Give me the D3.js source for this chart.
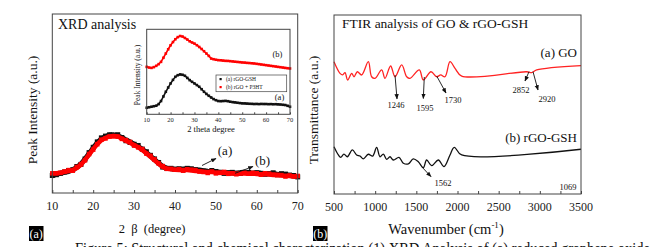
<!DOCTYPE html>
<html lang="en">
<head>
<meta charset="UTF-8">
<title>XRD and FTIR</title>
<script src="https://d3js.org/d3.v7.min.js"></script>
<style>
body { margin: 0; background: #fff; }
svg { display: block; background: #fff; font-family: "Liberation Serif", "DejaVu Serif", serif; }
.frame { fill: none; stroke: #444; stroke-width: 1; }
.tick-lab { font-size: 12px; fill: #222; }
</style>
</head>
<body>
<svg id="chart" width="652" height="247"></svg>
<script>
// ---- XRD data (2 theta, 10..70 by 1 degree) ----
const xrdAngles = d3.range(10, 71);
const xrdMainGSH = [9.5, 10.5, 11.0, 11.5, 12.0, 13.0, 14.3, 16.2, 19.0, 22.0, 25.2, 28.0, 30.3, 31.5, 32.4, 32.5, 32.0, 31.0, 29.7, 28.5, 27.3, 26.0, 24.4, 22.6, 20.6, 18.6, 16.6, 14.8, 13.9, 13.5, 13.3, 13.2, 13.4, 13.5, 13.2, 13.0, 12.8, 12.5, 12.2, 12.0, 11.8, 11.6, 11.4, 11.3, 11.2, 11.0, 11.4, 11.6, 11.2, 11.0, 11.3, 11.0, 10.8, 10.7, 10.9, 10.5, 10.3, 10.0, 9.8, 9.5, 9.0];
const xrdMainP3HT = [11.0, 11.0, 11.3, 11.8, 12.3, 12.8, 14.0, 15.8, 18.5, 21.5, 24.5, 27.3, 29.5, 30.8, 31.6, 31.9, 31.6, 30.5, 29.2, 28.0, 26.8, 25.6, 24.0, 22.2, 20.3, 18.3, 16.4, 14.6, 13.6, 13.2, 13.0, 12.9, 12.8, 12.9, 12.6, 12.3, 12.2, 11.9, 11.7, 11.8, 11.4, 11.3, 11.5, 11.1, 11.0, 10.8, 11.0, 10.9, 10.7, 10.9, 10.6, 10.5, 10.6, 10.3, 10.1, 10.2, 9.8, 9.7, 9.5, 9.3, 9.2];
const insetGSH = [7.7, 8.3, 8.9, 9.5, 10.1, 12.0, 15.6, 21.0, 26.5, 31.5, 36.3, 40.5, 44.1, 46.0, 46.9, 46.5, 45.3, 42.8, 40.2, 38.2, 36.3, 34.4, 32.4, 29.5, 26.5, 24.0, 21.8, 19.8, 17.9, 16.6, 15.6, 15.4, 15.6, 15.8, 15.4, 14.8, 14.3, 14.0, 13.6, 13.2, 12.9, 12.8, 12.6, 12.4, 12.3, 12.1, 12.2, 12.0, 12.2, 12.1, 12.1, 11.9, 12.0, 11.8, 11.9, 11.7, 11.5, 11.2, 10.9, 10.0, 8.9];
const insetP3HT = [55.8, 55.0, 54.6, 55.5, 57.0, 59.0, 61.7, 66.5, 71.5, 76.5, 81.2, 85.0, 88.3, 90.8, 92.1, 91.5, 89.8, 88.0, 85.9, 84.5, 83.2, 81.3, 79.2, 76.8, 74.2, 71.5, 68.7, 65.6, 64.8, 64.2, 63.7, 63.5, 63.2, 62.9, 62.8, 62.5, 62.2, 61.9, 61.6, 61.3, 61.0, 60.8, 60.5, 60.3, 60.0, 59.8, 59.4, 59.0, 58.6, 58.2, 57.8, 57.4, 57.0, 56.6, 56.2, 55.8, 55.4, 55.0, 54.6, 54.2, 53.9];
const xrdTicks = [10, 20, 30, 40, 50, 60, 70];

// ---- FTIR data ----
const goWave = [500, 573, 605, 634, 666, 715, 743, 783, 836, 917, 957, 998, 1079, 1119, 1188, 1241, 1322, 1383, 1423, 1536, 1585, 1678, 1747, 1796, 1848, 1909, 1970, 2051, 2840, 2901, 2962, 3500];
const goT = [73.9, 67.4, 66.5, 67.8, 63.7, 67.4, 65.5, 68.3, 66.5, 73.9, 65.5, 64.6, 69.3, 64.6, 71.5, 65.5, 72.1, 65.5, 64.6, 69.3, 63.7, 68.3, 65.5, 66.5, 65.5, 73.9, 70.2, 65.9, 68.3, 67.8, 69.3, 71.7];
const rgoWave = [500, 553, 581, 621, 662, 723, 775, 816, 856, 917, 970, 1018, 1059, 1099, 1140, 1180, 1221, 1289, 1342, 1403, 1463, 1524, 1585, 1625, 1686, 1767, 1836, 1909, 1961, 2051, 3500];
const rgoT = [26.4, 21.8, 20.5, 22.3, 20.8, 24.6, 21.8, 21.2, 19.6, 22.2, 21.2, 26.1, 20.8, 22.3, 19.4, 20.8, 19.0, 20.5, 17.2, 16.8, 19.6, 18.0, 14.7, 19.0, 15.8, 19.0, 15.3, 21.8, 26.1, 21.8, 25.0];
const ftirTicks = [500, 1000, 1500, 2000, 2500, 3000, 3500];
const peakLabels = ["1246", "1595", "1730", "2852", "2920", "1562", "1069"];

const svg = d3.select("#chart");

// arrow head
svg.append("defs").append("marker")
    .attr("id", "arr")
    .attr("viewBox", "0 0 10 10")
    .attr("refX", 9).attr("refY", 5)
    .attr("markerWidth", 6).attr("markerHeight", 6)
    .attr("orient", "auto")
    .append("path").attr("d", "M0,1 L10,5 L0,9 Z").attr("fill", "#111");

function arrow(x1, y1, x2, y2) {
    svg.append("line")
        .attr("x1", x1).attr("y1", y1).attr("x2", x2).attr("y2", y2)
        .attr("stroke", "#111").attr("stroke-width", 0.9)
        .attr("marker-end", "url(#arr)");
}

function label(x, y, txt, size, anchor) {
    return svg.append("text")
        .attr("x", x).attr("y", y)
        .attr("font-size", size)
        .attr("text-anchor", anchor || "middle")
        .attr("fill", "#111")
        .text(txt);
}

// ================= XRD (left) =================
const xL = d3.scaleLinear().domain([10, 70]).range([52.3, 297.7]);
const yL = d3.scaleLinear().domain([0, 100]).range([193, 14]);

const axL = svg.append("g").attr("transform", "translate(0,193)")
    .call(d3.axisBottom(xL).tickValues(d3.range(10, 71, 5)).tickSize(-3).tickFormat(""));
axL.select(".domain").remove();
axL.selectAll("line").attr("stroke", "#444");
svg.selectAll(".xl-lab").data(xrdTicks).enter().append("text")
    .attr("class", "tick-lab")
    .attr("x", d => xL(d)).attr("y", 210)
    .attr("text-anchor", "middle").text(d => d);

const lineL = d3.line().x((d, i) => xL(xrdAngles[i])).y(d => yL(d));
function thickSeries(vals, color, w, sq) {
    const g = svg.append("g");
    g.append("path").attr("d", lineL(vals)).attr("fill", "none")
        .attr("stroke", color).attr("stroke-width", w).attr("stroke-linejoin", "round");
    g.selectAll("rect").data(vals).enter().append("rect")
        .attr("x", (d, i) => xL(xrdAngles[i]) - sq / 2)
        .attr("y", d => yL(d) - sq / 2 + ((d * 7) % 2 - 1))
        .attr("width", sq).attr("height", sq).attr("fill", color);
}
thickSeries(xrdMainGSH, "#111", 5, 5);
thickSeries(xrdMainP3HT, "#f00", 4.5, 4.5);

svg.append("rect").attr("class", "frame").attr("x", 52.3).attr("y", 14).attr("width", 245.4).attr("height", 179);

label(58, 29, "XRD analysis", 14, "start");
label(225, 155, "(a)", 13);
label(262.5, 165, "(b)", 13);
arrow(202, 165.5, 216, 158.5);
arrow(235, 173.3, 253, 166.5);

svg.append("text").attr("transform", "translate(37,110) rotate(-90)")
    .attr("text-anchor", "middle").attr("font-size", 13.5).attr("fill", "#111")
    .text("Peak Intensity (a.u.)");
svg.append("text").attr("x", 152).attr("y", 233)
    .attr("text-anchor", "middle").attr("font-size", 12.5).attr("fill", "#111")
    .attr("xml:space", "preserve")
    .text("2  \u03B2  (degree)");

// ---- inset ----
const xI = d3.scaleLinear().domain([10, 70]).range([146.7, 290]);
const yI = d3.scaleLinear().domain([0, 100]).range([114.3, 29.3]);
const axI = svg.append("g").attr("transform", "translate(0,114.3)")
    .call(d3.axisBottom(xI).tickValues(d3.range(10, 71, 5)).tickSize(-2).tickFormat(""));
axI.select(".domain").remove();
axI.selectAll("line").attr("stroke", "#444");
svg.selectAll(".xi-lab").data(xrdTicks).enter().append("text")
    .attr("x", d => xI(d)).attr("y", 121.5)
    .attr("text-anchor", "middle").attr("font-size", 6.5).attr("fill", "#222").text(d => d);

const lineI = d3.line().x((d, i) => xI(xrdAngles[i])).y(d => yI(d));
function insetSeries(vals, color) {
    const g = svg.append("g");
    g.append("path").attr("d", lineI(vals)).attr("fill", "none")
        .attr("stroke", color).attr("stroke-width", 1.6);
    g.selectAll("rect").data(vals).enter().append("rect")
        .attr("x", (d, i) => xI(xrdAngles[i]) - 1.3)
        .attr("y", d => yI(d) - 1.3)
        .attr("width", 2.6).attr("height", 2.6).attr("fill", color);
}
insetSeries(insetGSH, "#111");
insetSeries(insetP3HT, "#f00");
svg.append("rect").attr("class", "frame").attr("x", 146.7).attr("y", 29.3).attr("width", 143.3).attr("height", 85);

label(277.5, 57, "(b)", 8.5);
label(279.5, 99.5, "(a)", 8.5);
svg.append("text").attr("x", 211).attr("y", 132)
    .attr("text-anchor", "middle").attr("font-size", 8.5).attr("fill", "#111").text("2 theta degree");
svg.append("text").attr("transform", "translate(139.5,75) rotate(-90)")
    .attr("text-anchor", "middle").attr("font-size", 7.5).attr("fill", "#111").text("Peak Intensity (a.u.)");

// legend
svg.append("rect").attr("x", 216).attr("y", 75).attr("width", 70.7).attr("height", 16.7)
    .attr("fill", "#fff").attr("stroke", "#444").attr("stroke-width", 0.7);
[["(a) rGO-GSH", "#111"], ["(b) rGO + P3HT", "#f00"]].forEach((e, i) => {
    svg.append("rect").attr("x", 219.5).attr("y", 78 + i * 8).attr("width", 2.2).attr("height", 2.2).attr("fill", e[1]);
    svg.append("text").attr("x", 226).attr("y", 81 + i * 8).attr("font-size", 5.5).attr("fill", "#111").text(e[0]);
});

// ================= FTIR (right) =================
const xR = d3.scaleLinear().domain([500, 3500]).range([334, 581]);
const yR = d3.scaleLinear().domain([0, 100]).range([194, 15]);
const axR = svg.append("g").attr("transform", "translate(0,194)")
    .call(d3.axisBottom(xR).tickValues(d3.range(500, 3501, 250)).tickSize(-3).tickFormat(""));
axR.select(".domain").remove();
axR.selectAll("line").attr("stroke", "#444");
svg.selectAll(".xr-lab").data(ftirTicks).enter().append("text")
    .attr("class", "tick-lab")
    .attr("x", d => xR(d)).attr("y", 211)
    .attr("text-anchor", "middle").text(d => d);

const lineR = d3.line().curve(d3.curveCatmullRom.alpha(0.5));
svg.append("path")
    .attr("d", lineR(goWave.map((w, i) => [xR(w), yR(goT[i])])))
    .attr("fill", "none").attr("stroke", "#f22").attr("stroke-width", 1.3);
svg.append("path")
    .attr("d", lineR(rgoWave.map((w, i) => [xR(w), yR(rgoT[i])])))
    .attr("fill", "none").attr("stroke", "#111").attr("stroke-width", 1.3);

svg.append("rect").attr("class", "frame").attr("x", 334).attr("y", 15).attr("width", 247).attr("height", 179);

label(342, 28, "FTIR analysis of GO & rGO-GSH", 13.5, "start");
label(577, 57, "(a) GO", 13, "end");
label(577, 141.5, "(b) rGO-GSH", 13, "end");

arrow(395, 75, 397, 99);
arrow(424.3, 77, 423.3, 98.5);
arrow(436.7, 76, 446, 93);
arrow(529, 71.7, 525, 81);
arrow(533, 71.7, 538, 90);
arrow(421.7, 166.7, 431, 176.7);
const peakPos = [[396, 108], [425, 111], [453, 102.5], [521, 92.5], [547, 102], [443, 186], [568, 190]];
peakLabels.forEach((t, i) => label(peakPos[i][0], peakPos[i][1], t, 8.5));

svg.append("text").attr("transform", "translate(318,110) rotate(-90)")
    .attr("text-anchor", "middle").attr("font-size", 13.5).attr("fill", "#111")
    .text("Transmittance (a.u.)");
const wl = svg.append("text").attr("x", 446).attr("y", 234)
    .attr("text-anchor", "middle").attr("font-size", 14.5).attr("fill", "#111");
wl.append("tspan").text("Wavenumber (cm");
wl.append("tspan").attr("font-size", 9).attr("dy", -6).text("-1");
wl.append("tspan").attr("dy", 6).text(")");

// panel tags
[["(a)", 29], ["(b)", 313]].forEach(p => {
    svg.append("rect").attr("x", p[1]).attr("y", 226).attr("width", 14.5).attr("height", 15).attr("fill", "#000");
    svg.append("text").attr("x", p[1] + 7.2).attr("y", 237.5).attr("text-anchor", "middle")
        .attr("font-size", 12).attr("fill", "#fff").text(p[0]);
});

// caption line cut off at bottom
svg.append("text").attr("x", 75).attr("y", 253.5).attr("font-size", 16).attr("fill", "#111")
    .attr("textLength", 575).attr("lengthAdjust", "spacingAndGlyphs")
    .text("Figure 5: Structural and chemical characterization (1) XRD Analysis of (a) reduced graphene oxide");
</script>
</body>
</html>
